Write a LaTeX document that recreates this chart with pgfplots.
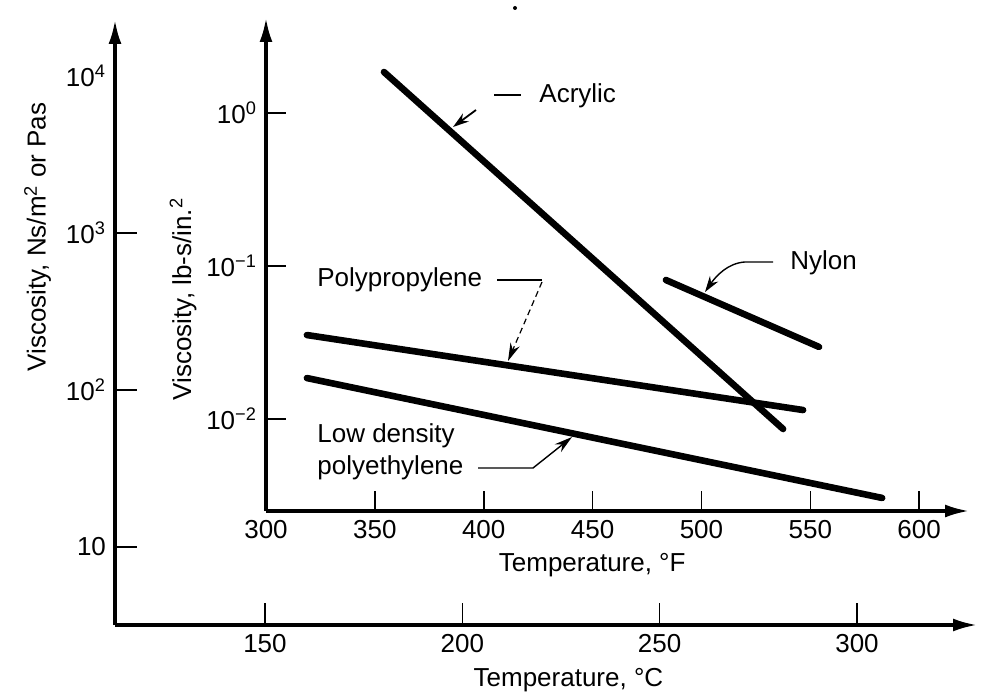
\documentclass[border=0pt]{standalone}
\usepackage{fontspec}
\setmainfont{Liberation Sans}
\usepackage{pgfplots}
\pgfplotsset{compat=1.18}
\usetikzlibrary{arrows.meta}
\newcommand{\px}[2]{({(#1-115)*0.5pt},{(625-#2)*0.5pt})}
\begin{document}
\fontsize{13}{15}\selectfont
\begin{tikzpicture}[font=\fontsize{13}{15}\selectfont]
\path[use as bounding box] \px{0}{0} rectangle \px{983}{695};
\begin{axis}[
  ymode=log,
  scale only axis,
  axis lines=left,
  axis line style={line width=1.6pt,-{Latex[length=12pt,width=6.5pt]}},
  tick align=inside,
  tick style={line width=0.8pt, black},
  minor tick style={draw=none},
  ticklabel style={font=\fontsize{13}{15}\selectfont},
  label style={font=\fontsize{13}{15}\selectfont},
  anchor=south west, at={(0pt,0pt)},
  width=431pt, height=302.5pt,
  xmin=112.0, xmax=330.4, ymin=3.186, ymax=22737,
  xtick={150,200,250,300}, xticklabels={150,200,250,300},
  ytick={10,100,1000}, yticklabels={10,10\textsuperscript{2},10\textsuperscript{3}},
  extra y ticks={10000}, extra y tick labels={10\textsuperscript{4}},
  extra y tick style={major tick length=0pt},
  major tick length=11pt,
  xlabel={Temperature, °C},
  ylabel={Viscosity, Ns/m\textsuperscript{2} or Pas},
  xlabel style={at={(axis description cs:0.526,-0.091)}, anchor=center},
  ylabel style={at={(axis description cs:-0.0898,0.641)}, anchor=center},
]
\end{axis}
\begin{axis}[
  ymode=log,
  scale only axis,
  axis lines=left,
  axis line style={line width=1.6pt,-{Latex[length=12pt,width=6.5pt]}},
  tick align=inside,
  tick style={line width=0.8pt, black},
  minor tick style={draw=none},
  ticklabel style={font=\fontsize{13}{15}\selectfont},
  label style={font=\fontsize{13}{15}\selectfont},
  anchor=south west, at={(75.5pt,57pt)},
  width=351.5pt, height=246.5pt,
  xmin=300, xmax=622.9, ymin=0.002506, ymax=4.178,
  xtick={300,350,400,450,500,550,600}, xticklabels={300,350,400,450,500,550,600},
  ytick={0.01,0.1,1}, yticklabels={10\textsuperscript{−2},10\textsuperscript{−1},10\textsuperscript{0}},
  major tick length=10pt,
  xlabel={Temperature, °F},
  ylabel={Viscosity, lb-s/in.\textsuperscript{2}},
  xlabel style={at={(axis description cs:0.464,-0.11)}, anchor=center},
  ylabel style={at={(axis description cs:-0.118,0.43)}, anchor=center},
]
% Acrylic
\addplot[black, line width=3.3pt, line cap=round] coordinates {(354.2,1.853) (537.5,0.00861)};
% Nylon
\addplot[black, line width=3.3pt, line cap=round] coordinates {(483.7,0.0810) (554.0,0.0296)};
% Polypropylene
\addplot[black, line width=3.3pt, line cap=round] coordinates {(318.8,0.0354) (546.7,0.01145)};
% Low density polyethylene
\addplot[black, line width=3.3pt, line cap=round] coordinates {(318.8,0.01853) (583.0,0.00305)};
\end{axis}
% annotations
\draw[line width=0.8pt] \px{494}{95} -- \px{521}{95};
\node[anchor=base west, inner sep=0pt] at \px{539}{103} {Acrylic};
\draw[line width=0.9pt, -{Stealth[length=8pt,width=5pt]}] \px{476}{110} -- \px{453}{127};
\node[anchor=base west, inner sep=0pt] at \px{790}{270} {Nylon};
\draw[line width=0.7pt, -{Stealth[length=8pt,width=5pt]}] \px{773}{262} -- \px{745}{262} .. controls \px{728}{263} and \px{716}{276} .. \px{705}{292};
\node[anchor=base west, inner sep=0pt] at \px{317}{287} {Polypropylene};
\draw[line width=0.7pt] \px{497}{280} -- \px{542}{280};
\draw[line width=0.6pt, densely dashed, -{Stealth[length=9pt,width=5pt]}] \px{542}{282} -- \px{508}{361};
\node[anchor=base west, inner sep=0pt] at \px{317}{443} {Low density};
\node[anchor=base west, inner sep=0pt] at \px{317}{475} {polyethylene};
\draw[line width=0.7pt, -{Stealth[length=9pt,width=5pt]}] \px{478}{468} -- \px{533}{468} -- \px{572}{437};
\fill \px{515}{8} circle (1pt);
\end{tikzpicture}
\end{document}
